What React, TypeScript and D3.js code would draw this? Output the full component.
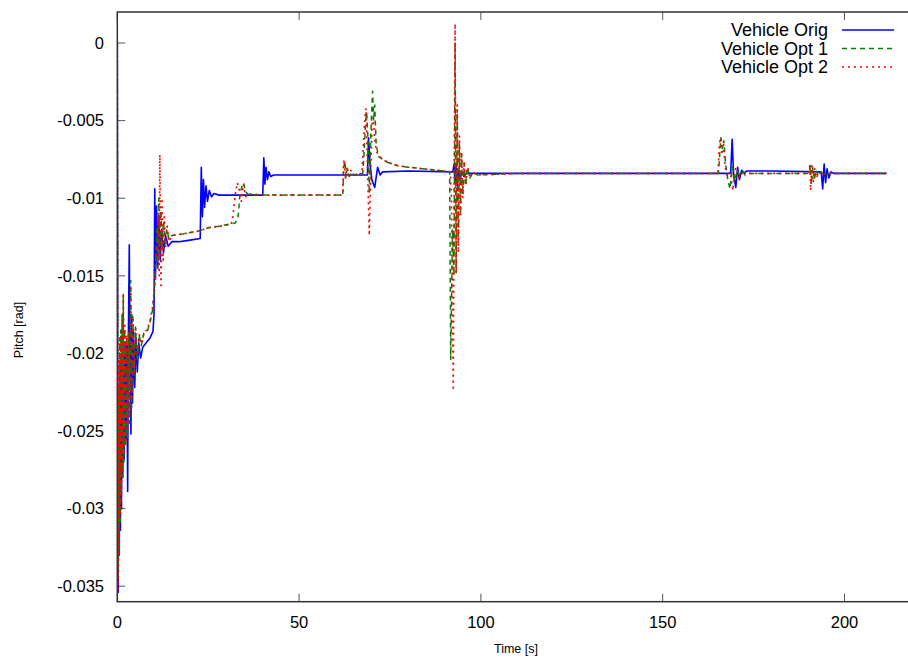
import React from "react";
import * as d3 from "d3";

// ---- data (time [s], pitch [rad]) ----
const xTicks = [0, 50, 100, 150, 200];
const yTicks = [0, -0.005, -0.01, -0.015, -0.02, -0.025, -0.03, -0.035];
const yTickLabels = ["0", "-0.005", "-0.01", "-0.015", "-0.02", "-0.025", "-0.03", "-0.035"];
const seriesNames = ["Vehicle Orig", "Vehicle Opt 1", "Vehicle Opt 2"];

const vehicleOrig: [number, number][] = [
  [0, 0], [0.1, -0.02], [0.25, -0.0354], [0.4, -0.025], [0.55, -0.033], [0.7, -0.021],
  [0.85, -0.0314], [1.0, -0.0205], [1.15, -0.03], [1.3, -0.0197], [1.5, -0.028], [1.7, -0.02],
  [1.9, -0.0268], [2.1, -0.0195], [2.4, -0.0255], [2.6, -0.0195], [2.85, -0.0289], [3.0, -0.02],
  [3.3, -0.013], [3.5, -0.021], [3.75, -0.0252], [3.95, -0.0175], [4.2, -0.0232], [4.45, -0.0185],
  [4.8, -0.0222], [5.1, -0.019], [5.5, -0.0212], [5.9, -0.0193], [6.4, -0.0203], [7.0, -0.0196],
  [8.0, -0.0193], [9.0, -0.019], [9.8, -0.0186], [10.1, -0.0175], [10.3, -0.0094], [10.5, -0.0152],
  [10.8, -0.0105], [11.1, -0.0145], [11.4, -0.0112], [11.8, -0.014], [12.2, -0.012], [12.7, -0.0135],
  [13.3, -0.0124], [14.0, -0.0131], [15, -0.0128], [17, -0.0128], [20, -0.0127], [22.8, -0.0126],
  [23.1, -0.008], [23.4, -0.0112], [23.7, -0.0088], [24.0, -0.0106], [24.4, -0.0092], [24.8, -0.0102],
  [25.3, -0.0095], [25.9, -0.0099], [26.6, -0.0097], [28, -0.0098], [35, -0.0098], [40.0, -0.0098],
  [40.3, -0.0074], [40.6, -0.0091], [40.9, -0.008], [41.3, -0.0088], [41.7, -0.0083], [42.2, -0.0086],
  [43, -0.0085], [50, -0.0085], [62, -0.0085], [68.8, -0.0085], [69.1, -0.0061], [69.5, -0.0078],
  [70.0, -0.0088], [70.8, -0.0093], [71.6, -0.008], [72.3, -0.0085], [73, -0.0083], [80, -0.00825],
  [92.3, -0.0083], [92.6, -0.0078], [92.9, -0.009], [93.2, -0.0079], [93.5, -0.0092], [93.8, -0.0081],
  [94.2, -0.0088], [94.7, -0.0083], [95.3, -0.0086], [96, -0.0084], [120, -0.0084], [168.7, -0.0084],
  [169.1, -0.0062], [169.5, -0.0085], [170.1, -0.0093], [170.6, -0.008], [171.1, -0.0088],
  [171.7, -0.0082], [172.5, -0.0084], [173, -0.00825], [180, -0.00825], [193.6, -0.0083],
  [194.0, -0.0094], [194.4, -0.0078], [194.8, -0.009], [195.2, -0.0081], [195.7, -0.0087],
  [196.3, -0.0083], [197, -0.0084], [211.6, -0.0084],
];

const vehicleOpt1: [number, number][] = [
  [0, 0], [0.1, -0.015], [0.2, -0.0345], [0.35, -0.022], [0.5, -0.033], [0.65, -0.019],
  [0.8, -0.031], [0.95, -0.0185], [1.1, -0.0295], [1.3, -0.0175], [1.5, -0.028], [1.65, -0.0162],
  [1.85, -0.027], [2.05, -0.0185], [2.3, -0.026], [2.55, -0.019], [2.8, -0.0255], [3.1, -0.0188],
  [3.4, -0.0245], [3.7, -0.0153], [3.95, -0.0235], [4.25, -0.0175], [4.6, -0.0215], [5.0, -0.0183],
  [5.5, -0.0205], [6.0, -0.0188], [6.6, -0.0195], [7.3, -0.0187], [8.2, -0.0186], [9.0, -0.018],
  [9.7, -0.0172], [10.2, -0.016], [10.6, -0.014], [10.9, -0.0118], [11.1, -0.0145], [11.4, -0.01],
  [11.7, -0.0135], [12.0, -0.0108], [12.3, -0.0132], [12.7, -0.0115], [13.1, -0.0128], [13.6, -0.012],
  [14.2, -0.0126], [15, -0.0124], [18, -0.0123], [22.7, -0.0121], [25, -0.0119], [28.2, -0.0118],
  [32.4, -0.0116], [33.2, -0.0113], [33.7, -0.0098], [34.3, -0.0092], [34.7, -0.009], [35.3, -0.0096],
  [36, -0.00975], [40, -0.0098], [50, -0.0098], [62.0, -0.0098], [62.3, -0.008], [62.6, -0.0076],
  [62.9, -0.0086], [63.3, -0.0081], [63.8, -0.0086], [64.4, -0.0083], [65.2, -0.0085], [66.5, -0.0084],
  [67.5, -0.0084], [67.9, -0.007], [68.3, -0.005], [68.6, -0.0045], [68.9, -0.006], [69.3, -0.0097],
  [69.7, -0.006], [70.2, -0.0031], [70.5, -0.005], [70.8, -0.004], [71.2, -0.0065], [71.8, -0.0073],
  [73, -0.0075], [74.5, -0.0077], [77, -0.0079], [80, -0.008], [84, -0.0081], [88, -0.0082],
  [91.4, -0.0083], [91.7, -0.0204], [92.2, -0.012], [92.6, -0.015], [92.9, 0.0], [93.2, -0.0148],
  [93.5, -0.0045], [93.8, -0.0128], [94.1, -0.0065], [94.4, -0.011], [94.7, -0.0072], [95.0, -0.0098],
  [95.4, -0.0078], [95.8, -0.0092], [96.3, -0.008], [97, -0.0087], [97.8, -0.0083], [99, -0.0085],
  [110, -0.0084], [165.3, -0.0084], [165.6, -0.0075], [166.0, -0.0061], [166.4, -0.0068],
  [166.8, -0.0063], [167.3, -0.0078], [167.9, -0.0088], [168.5, -0.0094], [169.2, -0.008],
  [169.8, -0.0089], [170.5, -0.0082], [171.3, -0.0086], [172.2, -0.0083], [173, -0.0084],
  [190.3, -0.0084], [190.6, -0.0079], [190.9, -0.0091], [191.3, -0.008], [191.7, -0.0088],
  [192.2, -0.0082], [192.8, -0.0086], [193.5, -0.0083], [194.5, -0.0085], [196, -0.0084],
  [211.6, -0.0084],
];

const vehicleOpt2: [number, number][] = [
  [0, 0], [0.12, -0.018], [0.22, -0.0352], [0.38, -0.0205], [0.52, -0.0325], [0.68, -0.02],
  [0.83, -0.0305], [1.0, -0.019], [1.15, -0.0292], [1.35, -0.018], [1.5, -0.0275], [1.65, -0.0161],
  [1.88, -0.0265], [2.1, -0.0182], [2.35, -0.0258], [2.6, -0.0188], [2.85, -0.025], [3.15, -0.0185],
  [3.45, -0.024], [3.72, -0.0158], [4.0, -0.023], [4.3, -0.0178], [4.65, -0.0212], [5.05, -0.0184],
  [5.55, -0.0203], [6.05, -0.0188], [6.7, -0.0194], [7.4, -0.0186], [8.2, -0.0185], [9.0, -0.0179],
  [9.7, -0.017], [10.2, -0.0158], [10.6, -0.0138], [11.0, -0.013], [11.3, -0.011], [11.5, -0.015],
  [11.7, -0.0072], [12.0, -0.0158], [12.3, -0.01], [12.6, -0.014], [12.9, -0.0112], [13.3, -0.0132],
  [13.7, -0.0118], [14.2, -0.0128], [15, -0.0124], [18, -0.0123], [22.7, -0.0121], [25, -0.0119],
  [28.2, -0.0118], [31.3, -0.0117], [31.8, -0.0112], [32.4, -0.0098], [33.0, -0.009], [33.5, -0.0094],
  [34.1, -0.0102], [34.7, -0.0091], [35.3, -0.0099], [36, -0.0097], [40, -0.0098], [50, -0.0098],
  [62.0, -0.0098], [62.2, -0.0078], [62.4, -0.0075], [62.7, -0.0088], [63.1, -0.008], [63.6, -0.0087],
  [64.2, -0.0082], [65, -0.0085], [67.3, -0.0084], [67.7, -0.0065], [68.1, -0.0048], [68.4, -0.0042],
  [68.8, -0.008], [69.3, -0.0124], [69.7, -0.0085], [70.1, -0.005], [70.4, -0.0048], [70.8, -0.0062],
  [71.3, -0.007], [72, -0.0073], [73, -0.0075], [74.5, -0.0077], [77, -0.0079], [80, -0.008],
  [84, -0.0081], [88, -0.0082], [91.6, -0.0083], [91.9, -0.01], [92.4, -0.0224], [92.7, -0.006],
  [92.9, 0.00125], [93.2, -0.0148], [93.5, -0.004], [93.8, -0.0135], [94.1, -0.006], [94.4, -0.0112],
  [94.7, -0.007], [95.0, -0.01], [95.4, -0.0076], [95.8, -0.0092], [96.3, -0.008], [97, -0.0087],
  [97.8, -0.0083], [99, -0.0085], [110, -0.0084], [165.2, -0.0084], [165.6, -0.0065],
  [165.9, -0.0061], [166.3, -0.0072], [166.7, -0.0064], [167.2, -0.008], [167.8, -0.0086],
  [168.6, -0.0083], [169.3, -0.0095], [169.8, -0.0082], [170.3, -0.008], [171, -0.0087],
  [171.8, -0.0083], [172.6, -0.0085], [173.5, -0.0084], [190.2, -0.0084], [190.5, -0.0078],
  [190.7, -0.0095], [191.0, -0.0079], [191.4, -0.009], [191.8, -0.0081], [192.3, -0.0087],
  [192.9, -0.0083], [193.6, -0.0085], [195, -0.0084], [211.6, -0.0084],
];

const seriesData = [vehicleOrig, vehicleOpt1, vehicleOpt2];
const seriesColors = ["#0000ff", "#008000", "#ff0000"];
const seriesDash = ["none", "5,4", "2,4"];
const seriesWidth = [1.6, 1.5, 1.6];

const W = 908;
const H = 659;
const left = 117.3;
const top = 12;
const bottom = 601.7;
const xScale = d3.scaleLinear().domain([0, 220]).range([left, left + 220 * 3.636]);
const yScale = d3.scaleLinear().domain([-0.036, 0.002]).range([bottom, top]);
const right = xScale(220);

const line = d3
  .line<[number, number]>()
  .x((d) => xScale(d[0]))
  .y((d) => yScale(d[1]));

const FONT = "'Liberation Sans', Arial, Helvetica, sans-serif";
const frameColor = "#333";

export default function App() {
  return (
    <svg
      width={W}
      height={H}
      style={{ position: "absolute", left: 0, top: 0, background: "#fff" }}
      fontFamily={FONT}
    >
      <defs>
        <clipPath id="plotClip">
          <rect x={left} y={top} width={right - left} height={bottom - top} />
        </clipPath>
      </defs>
      <rect x={0} y={0} width={W} height={H} fill="#fff" />

      {/* ticks */}
      {yTicks.map((v, i) => (
        <g key={"y" + i}>
          <line x1={left} x2={left + 8} y1={yScale(v)} y2={yScale(v)} stroke="#555" strokeWidth={1} />
          <line x1={right} x2={right - 8} y1={yScale(v)} y2={yScale(v)} stroke="#555" strokeWidth={1} />
          <text x={104} y={yScale(v)} dy="0.35em" textAnchor="end" fontSize={16.5} fill="#000">
            {yTickLabels[i]}
          </text>
        </g>
      ))}
      {xTicks.map((v, i) => (
        <g key={"x" + i}>
          <line x1={xScale(v)} x2={xScale(v)} y1={bottom} y2={bottom - 8} stroke="#555" strokeWidth={1} />
          <line x1={xScale(v)} x2={xScale(v)} y1={top} y2={top + 8} stroke="#555" strokeWidth={1} />
          <text x={xScale(v)} y={628} textAnchor="middle" fontSize={16.5} fill="#000">
            {String(v)}
          </text>
        </g>
      ))}

      {/* series */}
      <g clipPath="url(#plotClip)">
        {seriesData.map((d, i) => (
          <path
            key={seriesNames[i]}
            d={line(d) || ""}
            fill="none"
            stroke={seriesColors[i]}
            strokeWidth={seriesWidth[i]}
            strokeDasharray={seriesDash[i]}
            strokeLinejoin="round"
          />
        ))}
      </g>

      {/* frame */}
      <rect x={left} y={top} width={right - left} height={bottom - top} fill="none" stroke={frameColor} strokeWidth={1.5} />

      {/* axis labels */}
      <text x={516} y={653} textAnchor="middle" fontSize={12.5} fill="#000">
        Time [s]
      </text>
      <text
        transform="translate(23,330) rotate(-90)"
        textAnchor="middle"
        fontSize={12.5}
        fill="#000"
      >
        Pitch [rad]
      </text>

      {/* legend */}
      {seriesNames.map((name, i) => (
        <g key={"lg" + i}>
          <text x={828} y={30 + i * 18.5} dy="0.35em" textAnchor="end" fontSize={18} fill="#000">
            {name}
          </text>
          <line
            x1={842}
            x2={894}
            y1={30 + i * 18.5}
            y2={30 + i * 18.5}
            stroke={seriesColors[i]}
            strokeWidth={seriesWidth[i]}
            strokeDasharray={seriesDash[i]}
          />
        </g>
      ))}
    </svg>
  );
}
